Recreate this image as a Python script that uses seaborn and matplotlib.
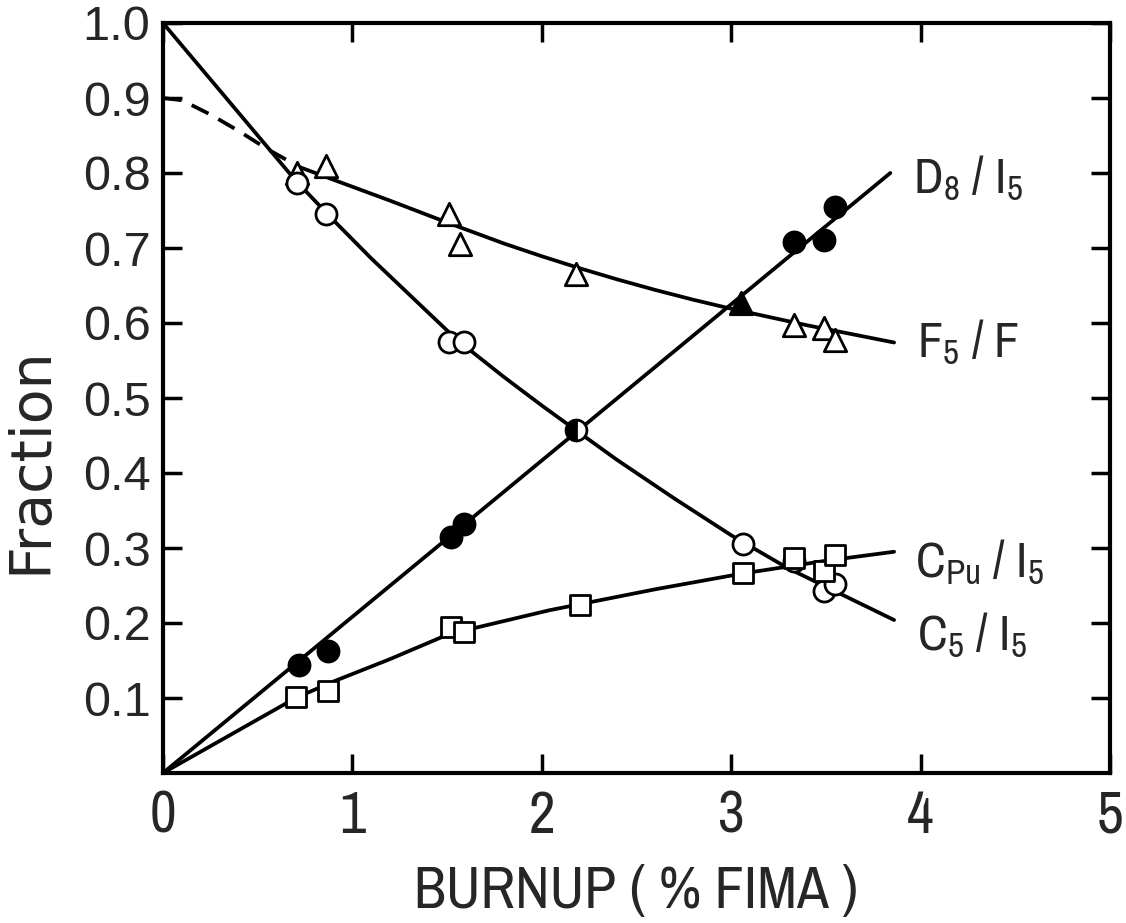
import numpy as np
import seaborn as sns
import matplotlib.pyplot as plt

# measured points (burnup %FIMA, fraction)
tri_x = [0.71, 0.86, 1.51, 1.57, 2.18, 3.33, 3.49, 3.55]
tri_y = [0.80, 0.81, 0.745, 0.705, 0.665, 0.597, 0.593, 0.577]
tri_fill_x = [3.05]
tri_fill_y = [0.627]

c5_x = [0.71, 0.86, 1.51, 1.59, 3.06, 3.33, 3.49, 3.55]
c5_y = [0.787, 0.745, 0.575, 0.575, 0.305, 0.283, 0.243, 0.252]

d8_x = [0.72, 0.87, 1.52, 1.59, 3.33, 3.49, 3.55]
d8_y = [0.144, 0.163, 0.315, 0.332, 0.708, 0.711, 0.755]

half_x = [2.18]
half_y = [0.457]

cpu_x = [0.70, 0.87, 1.52, 1.59, 2.20, 3.06, 3.33, 3.49, 3.55]
cpu_y = [0.101, 0.109, 0.195, 0.188, 0.224, 0.267, 0.287, 0.269, 0.291]

# fitted curves
fit_c5_x = [0, 0.35, 0.7, 0.9, 1.1, 1.3, 1.55, 1.8, 2.0, 2.18, 2.4, 2.7, 3.0, 3.3, 3.6, 3.86]
fit_c5_y = [1.0, 0.895, 0.79, 0.737, 0.686, 0.638, 0.578, 0.528, 0.49, 0.457,
            0.417, 0.366, 0.317, 0.273, 0.236, 0.204]

fit_f5_dash_x = [0, 0.1, 0.25, 0.4, 0.55, 0.72]
fit_f5_dash_y = [0.9, 0.897, 0.878, 0.856, 0.832, 0.808]
fit_f5_x = [0.72, 0.9, 1.2, 1.5, 1.8, 2.0, 2.2, 2.4, 2.6, 2.8, 3.0, 3.2, 3.4, 3.6, 3.86]
fit_f5_y = [0.808, 0.791, 0.763, 0.734, 0.706, 0.689, 0.673, 0.658, 0.644, 0.631,
            0.619, 0.608, 0.597, 0.587, 0.574]

fit_d8_x = [0, 3.84]
fit_d8_y = [0, 0.80]

fit_cpu_x = [0, 0.7, 0.9, 1.2, 1.47, 1.64, 2.04, 2.2, 2.6, 3.06, 3.5, 3.86]
fit_cpu_y = [0, 0.10, 0.122, 0.152, 0.181, 0.193, 0.217, 0.225, 0.245, 0.266, 0.283, 0.295]

labels = ['D$_8$ / I$_5$', 'F$_5$ / F', 'C$_{Pu}$ / I$_5$', 'C$_5$ / I$_5$']
label_x = [3.96, 3.98, 3.97, 3.98]
label_y = [0.773, 0.555, 0.261, 0.164]

xticks = [0, 1, 2, 3, 4, 5]
yticks = [0.1, 0.2, 0.3, 0.4, 0.5, 0.6, 0.7, 0.8, 0.9, 1.0]
ytick_labels = ['0.1', '0.2', '0.3', '0.4', '0.5', '0.6', '0.7', '0.8', '0.9', '1.0']

narrow = ['Archivo Narrow', 'Liberation Sans', 'DejaVu Sans']

sns.set_style('ticks')
plt.rcParams['font.family'] = narrow
plt.rcParams['mathtext.default'] = 'regular'

fig = plt.figure(figsize=(11.26, 9.23), dpi=100)
ax = fig.add_axes([163 / 1126, 150 / 923, 947 / 1126, 750 / 923])

lw = 2.7
for fx, fy in [(fit_c5_x, fit_c5_y), (fit_f5_x, fit_f5_y),
               (fit_d8_x, fit_d8_y), (fit_cpu_x, fit_cpu_y)]:
    sns.lineplot(x=fx, y=fy, ax=ax, color='black', linewidth=lw,
                 sort=False, estimator=None, zorder=2)
sns.lineplot(x=fit_f5_dash_x, y=fit_f5_dash_y, ax=ax, color='black', linewidth=lw,
             sort=False, estimator=None, zorder=2)
ax.lines[-1].set_dashes((5, 3))

sns.scatterplot(x=tri_x, y=tri_y, ax=ax, marker='^', s=260, color='white',
                edgecolor='black', linewidth=2, zorder=3)
sns.scatterplot(x=tri_fill_x, y=tri_fill_y, ax=ax, marker='^', s=260, color='black',
                edgecolor='black', linewidth=2, zorder=3)
sns.scatterplot(x=c5_x, y=c5_y, ax=ax, marker='o', s=230, color='white',
                edgecolor='black', linewidth=2, zorder=3)
sns.scatterplot(x=d8_x, y=d8_y, ax=ax, marker='o', s=230, color='black',
                edgecolor='black', linewidth=2, zorder=3)
sns.scatterplot(x=cpu_x, y=cpu_y, ax=ax, marker='s', s=200, color='white',
                edgecolor='black', linewidth=2, zorder=3)
ax.plot(half_x, half_y, marker='o', markersize=15, fillstyle='left',
        markerfacecolor='black', markerfacecoloralt='white',
        markeredgecolor='black', markeredgewidth=2, linestyle='none', zorder=4)

for t, tx, ty in zip(labels, label_x, label_y):
    ax.text(tx, ty, t, fontsize=36, va='baseline', ha='left', family=narrow)

ax.set_xlim(0, 5)
ax.set_ylim(0, 1.0)
ax.set_xticks(xticks)
ax.set_xticklabels([str(v) for v in xticks], fontsize=42, family=narrow)
ax.set_yticks(yticks)
ax.set_yticklabels(ytick_labels, fontsize=35, family=['Liberation Sans', 'DejaVu Sans'])
ax.tick_params(direction='in', length=14, width=2.5, top=True, right=True, color='black')
ax.tick_params(axis='x', pad=12)
ax.tick_params(axis='y', pad=9)
for s in ax.spines.values():
    s.set_linewidth(3)
    s.set_color('black')

ax.set_xlabel('BURNUP ( % FIMA )', fontsize=42, labelpad=16, family=narrow)
ax.set_ylabel('Fraction', fontsize=41, family=['DejaVu Sans'])
ax.yaxis.set_label_coords(-0.11, 0.417)

fig.savefig('out.png', dpi=100)
